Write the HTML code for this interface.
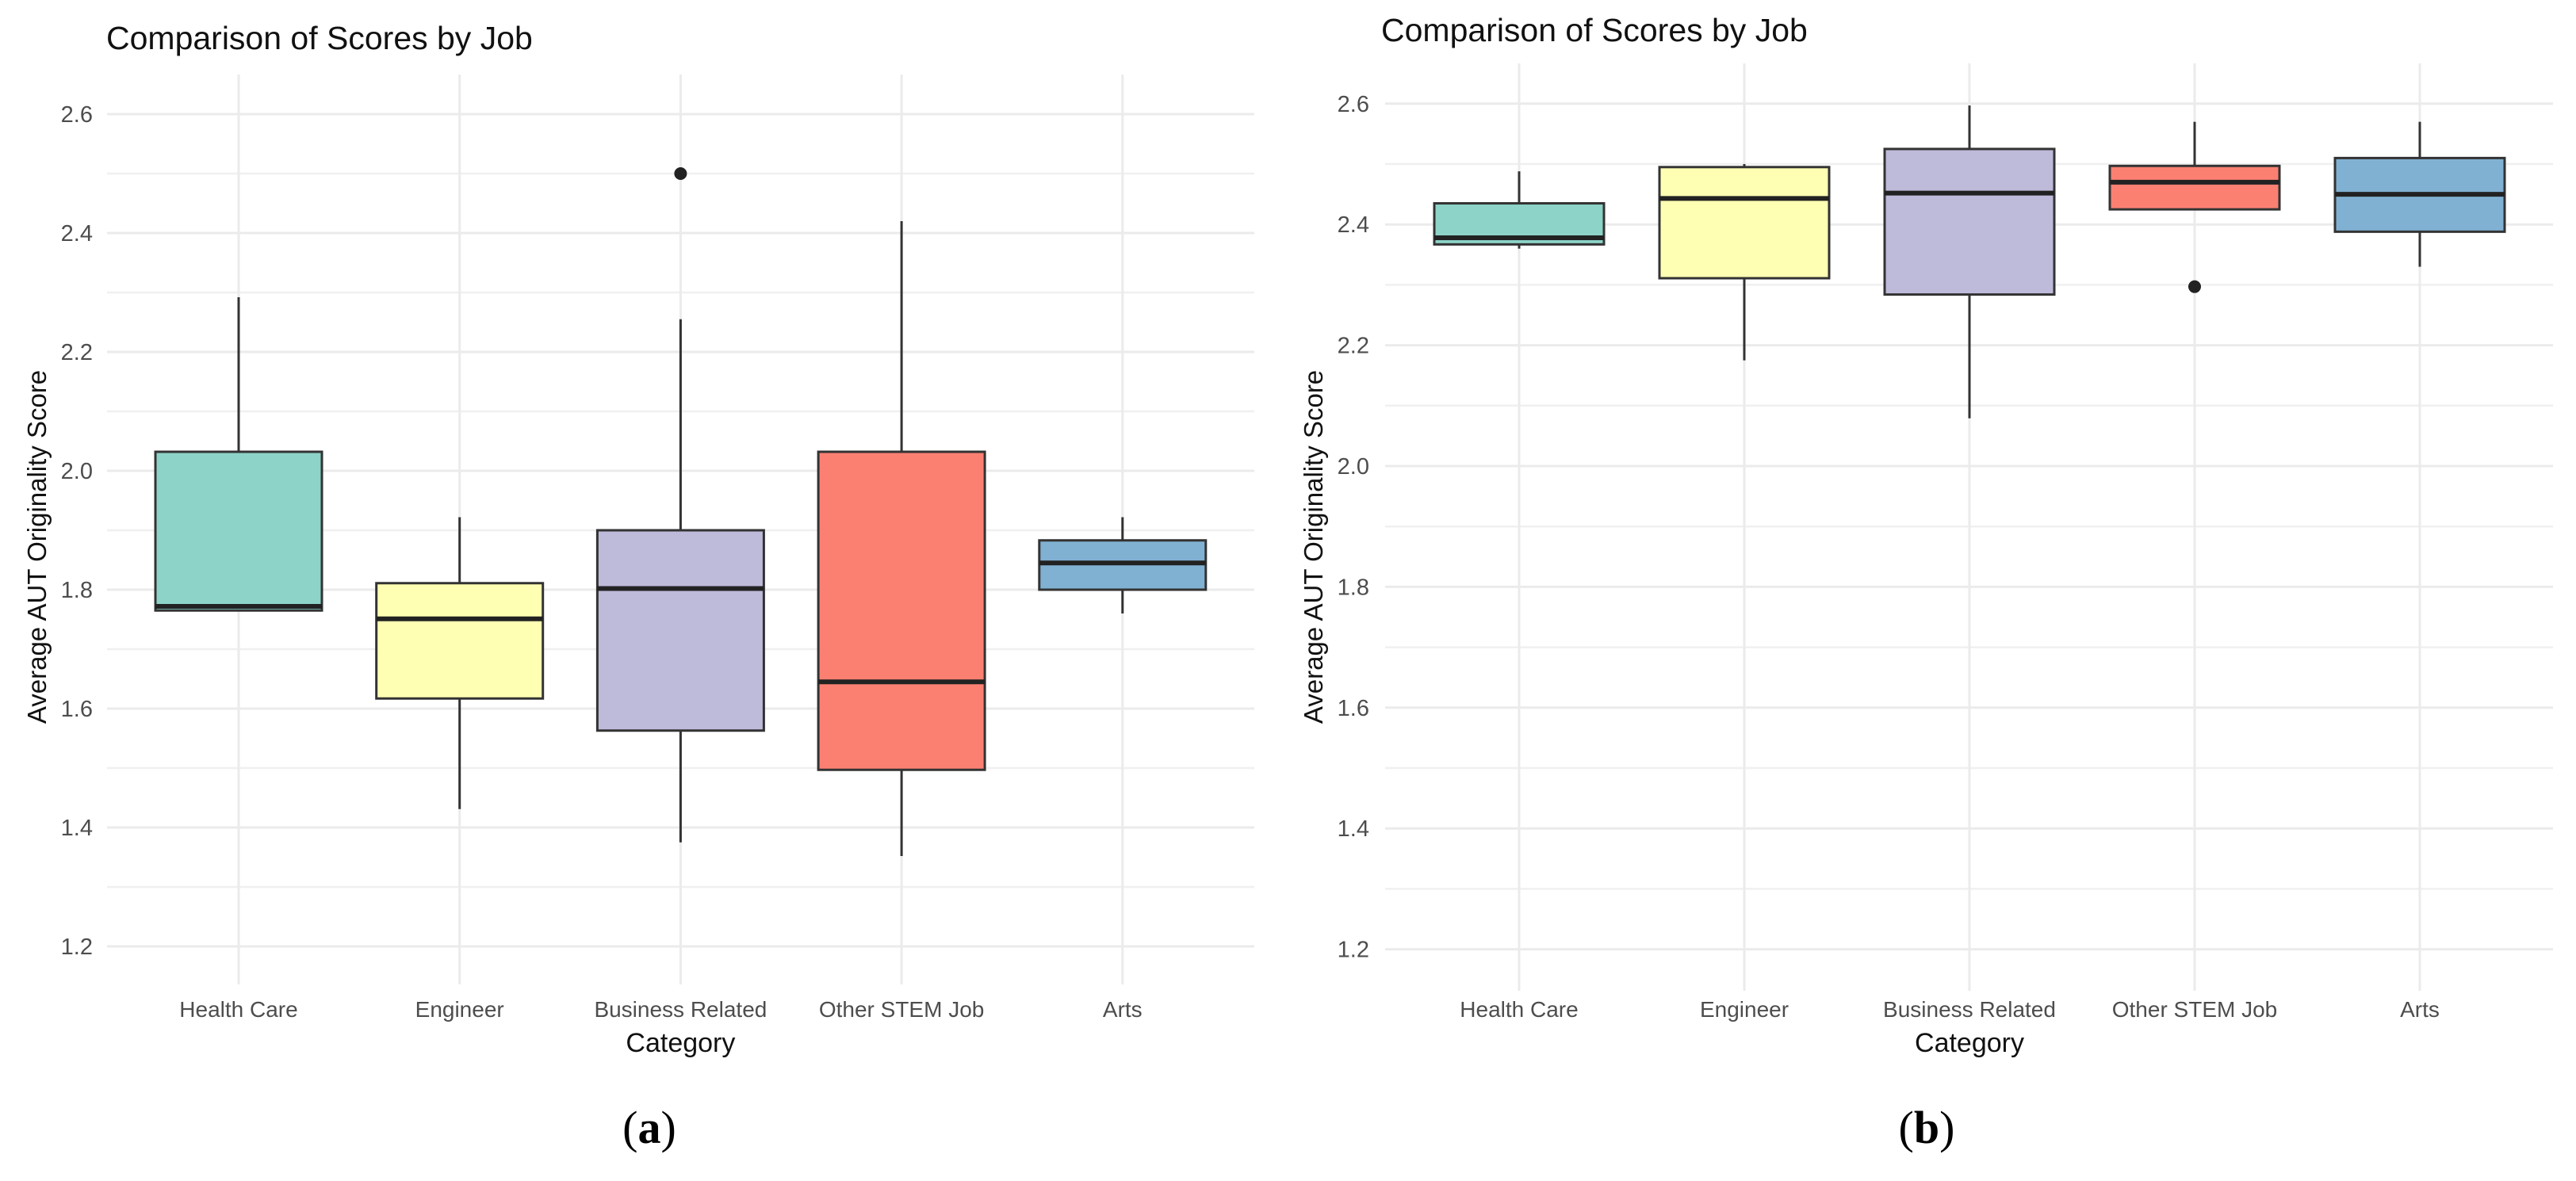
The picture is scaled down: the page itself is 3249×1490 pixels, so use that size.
<!DOCTYPE html>
<html><head><meta charset="utf-8"><style>
html,body{margin:0;padding:0;background:#fff;}
svg{display:block;font-family:"Liberation Sans",sans-serif;}
</style></head><body>
<svg id="fig" width="3249" height="1490" viewBox="0 0 3249 1490"></svg>
<script>
const categories = ["Health Care","Engineer","Business Related","Other STEM Job","Arts"];
const colors = ["#8dd3c7","#ffffb3","#bebada","#fb8072","#80b1d3"];
const yTicks = [1.2,1.4,1.6,1.8,2.0,2.2,2.4,2.6];
const yTickLabels = ["1.2","1.4","1.6","1.8","2.0","2.2","2.4","2.6"];
// panel a
const aLow  = [1.765,1.431,1.375,1.352,1.760];
const aQ1   = [1.765,1.617,1.563,1.497,1.800];
const aMed  = [1.772,1.751,1.802,1.645,1.845];
const aQ3   = [2.032,1.811,1.900,2.032,1.883];
const aHigh = [2.292,1.922,2.255,2.420,1.922];
const aOutCat = [2];
const aOutVal = [2.50];
// panel b
const bLow  = [2.360,2.175,2.079,2.425,2.330];
const bQ1   = [2.367,2.311,2.284,2.425,2.388];
const bMed  = [2.378,2.443,2.452,2.470,2.450];
const bQ3   = [2.435,2.495,2.525,2.497,2.510];
const bHigh = [2.488,2.500,2.597,2.570,2.570];
const bOutCat = [3];
const bOutVal = [2.297];

const NS="http://www.w3.org/2000/svg";
const svg=document.getElementById('fig');
function mk(tag,attrs,parent,text){const e=document.createElementNS(NS,tag);for(const k in attrs)e.setAttribute(k,attrs[k]);if(text!==undefined)e.textContent=text;(parent||svg).appendChild(e);return e;}

function panel(cfg){
  const g=mk('g',{});
  
  
  const y=v=>cfg.y0-(v-2.0)*cfg.k;
  const x=i=>cfg.x0+i*cfg.dx;
  // minor gridlines
  for(let i=0;i<yTicks.length-1;i++){
    const v=(yTicks[i]+yTicks[i+1])/2;
    const l=mk('line',{x1:cfg.px0,x2:cfg.px1,y1:y(v),y2:y(v),stroke:'#f0f0f0','stroke-width':2.5},g);
    
    
  }
  yTicks.forEach((v,i)=>{
    const l=mk('line',{x1:cfg.px0,x2:cfg.px1,y1:y(v),y2:y(v),stroke:'#ebebeb','stroke-width':3},g);
    
    
    const t=mk('text',{x:cfg.tickX,y:y(v)+10,'text-anchor':'end','font-size':29,fill:'#4d4d4d'},g,yTickLabels[i]);
    
    
  });
  categories.forEach((c,i)=>{
    const l=mk('line',{x1:x(i),x2:x(i),y1:cfg.vTop,y2:cfg.vBot,stroke:'#ebebeb','stroke-width':3},g);
    
    
    const t=mk('text',{x:x(i),y:cfg.labY,'text-anchor':'middle','font-size':28,fill:'#4d4d4d'},g,c);
    
    
  });
  const d=cfg.data, hw=cfg.bw/2;
  categories.forEach((c,i)=>{
    const bg=mk('g',{},g);
    
    
    const w1=mk('line',{x1:x(i),x2:x(i),y1:y(d.high[i]),y2:y(d.q3[i]),stroke:'#333','stroke-width':3},bg);
    
    
    const w2=mk('line',{x1:x(i),x2:x(i),y1:y(d.q1[i]),y2:y(d.low[i]),stroke:'#333','stroke-width':3},bg);
    
    
    const r=mk('rect',{x:x(i)-hw,y:y(d.q3[i]),width:cfg.bw,height:Math.max(1,y(d.q1[i])-y(d.q3[i])),fill:colors[i],stroke:'#333','stroke-width':3},bg);
    
    
    const m=mk('line',{x1:x(i)-hw,x2:x(i)+hw,y1:y(d.med[i]),y2:y(d.med[i]),stroke:'#222','stroke-width':6},bg);
    
    
  });
  d.outCat.forEach((ci,j)=>{
    const p=mk('circle',{cx:x(ci),cy:y(d.outVal[j]),r:8,fill:'#222'},g);
    
    
  });
  const t=mk('text',{x:cfg.titleX,y:cfg.titleY,'font-size':41,fill:'#111'},g,'Comparison of Scores by Job');
  
  
  const xt=mk('text',{x:x(2),y:cfg.labY+44,'text-anchor':'middle','font-size':34,fill:'#111'},g,'Category');
  
  
  const yt=mk('text',{x:0,y:0,'text-anchor':'middle','font-size':33,fill:'#111',transform:`translate(${cfg.ytX},${cfg.ytY}) rotate(-90)`},g,'Average AUT Originality Score');
  
  
  const cap=mk('text',{x:cfg.capX,y:1442,'text-anchor':'middle','font-size':58,'font-family':'Liberation Serif, serif',fill:'#000'},g);
  
  
  mk('tspan',{},cap,'(');
  mk('tspan',{'font-weight':'bold'},cap,cfg.cap);
  mk('tspan',{},cap,')');
}

panel({name:'panel-a',x0:301,dx:278.7,bw:210,y0:594,k:750,px0:135,px1:1582,vTop:94,vBot:1242,
  tickX:117,labY:1283,titleX:134,titleY:62,ytX:58,ytY:690,capX:819,cap:'a',
  data:{low:aLow,q1:aQ1,med:aMed,q3:aQ3,high:aHigh,outCat:aOutCat,outVal:aOutVal}});
panel({name:'panel-b',x0:1916,dx:284,bw:214,y0:588,k:762,px0:1747,px1:3220,vTop:80,vBot:1250,
  tickX:1727,labY:1283,titleX:1742,titleY:52,ytX:1668,ytY:690,capX:2430,cap:'b',
  data:{low:bLow,q1:bQ1,med:bMed,q3:bQ3,high:bHigh,outCat:bOutCat,outVal:bOutVal}});
</script>
</body></html>
